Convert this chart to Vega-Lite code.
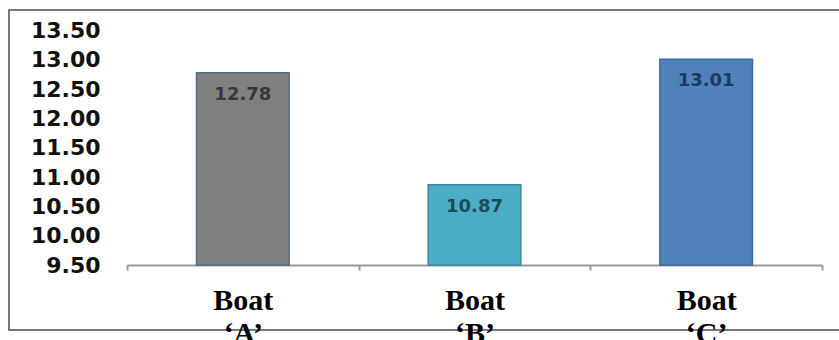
{
  "$schema": "https://vega.github.io/schema/vega-lite/v6.json",
  "autosize": "none",
  "width": 840,
  "height": 320,
  "padding": {"left": 9, "top": 10, "right": 0, "bottom": 10},
  "background": "white",
  "config": {
    "view": {"stroke": "#4d4d4d", "strokeWidth": 1.5}
  },
  "data": {
    "values": [
      {"boat": "Boat ‘A’", "value": 12.78},
      {"boat": "Boat ‘B’", "value": 10.87},
      {"boat": "Boat ‘C’", "value": 13.01}
    ]
  },
  "encoding": {
    "x": {
      "field": "boat",
      "type": "nominal",
      "sort": null,
      "scale": {"range": [118, 813], "paddingInner": 0, "paddingOuter": 0},
      "axis": {
        "orient": "bottom",
        "offset": -65,
        "title": null,
        "labelAngle": 0,
        "domainColor": "#9a9a9a",
        "domainWidth": 2,
        "tickColor": "#9a9a9a",
        "tickWidth": 2,
        "tickSize": 5,
        "tickBand": "extent",
        "labelExpr": "split(datum.label, ' ')",
        "labelFont": "Liberation Serif",
        "labelFontWeight": "bold",
        "labelFontSize": 30,
        "labelColor": "#000000",
        "labelPadding": 15,
        "labelLineHeight": 33,
        "labelBaseline": "top",
        "labelOverlap": false
      }
    },
    "y": {
      "field": "value",
      "type": "quantitative",
      "scale": {"domain": [9.5, 13.5], "range": [255, 20.5], "zero": false, "nice": false},
      "axis": {
        "orient": "left",
        "offset": -118,
        "title": null,
        "values": [9.5, 10, 10.5, 11, 11.5, 12, 12.5, 13, 13.5],
        "format": ".2f",
        "domain": false,
        "ticks": false,
        "grid": false,
        "labelFont": "DejaVu Sans",
        "labelFontWeight": "bold",
        "labelFontSize": 22,
        "labelColor": "#111111",
        "labelPadding": 27,
        "labelOverlap": false
      }
    }
  },
  "layer": [
    {
      "mark": {"type": "bar", "width": {"band": 0.4}, "strokeWidth": 1.5},
      "encoding": {
        "y2": {"datum": 9.5},
        "fill": {
          "field": "boat",
          "type": "nominal",
          "legend": null,
          "scale": {"domain": ["Boat ‘A’", "Boat ‘B’", "Boat ‘C’"], "range": ["#808080", "#4bacc6", "#4f81bd"]}
        },
        "stroke": {
          "field": "boat",
          "type": "nominal",
          "legend": null,
          "scale": {"domain": ["Boat ‘A’", "Boat ‘B’", "Boat ‘C’"], "range": ["#56698a", "#3a8aa3", "#3b6aa3"]}
        }
      }
    },
    {
      "mark": {"type": "text", "baseline": "top", "dy": 13, "font": "DejaVu Sans", "fontWeight": "bold", "fontSize": 18},
      "encoding": {
        "text": {"field": "value", "type": "quantitative", "format": ".2f"},
        "color": {
          "field": "boat",
          "type": "nominal",
          "legend": null,
          "scale": {"domain": ["Boat ‘A’", "Boat ‘B’", "Boat ‘C’"], "range": ["#383838", "#1d4c5a", "#1f3a5e"]}
        }
      }
    }
  ]
}
